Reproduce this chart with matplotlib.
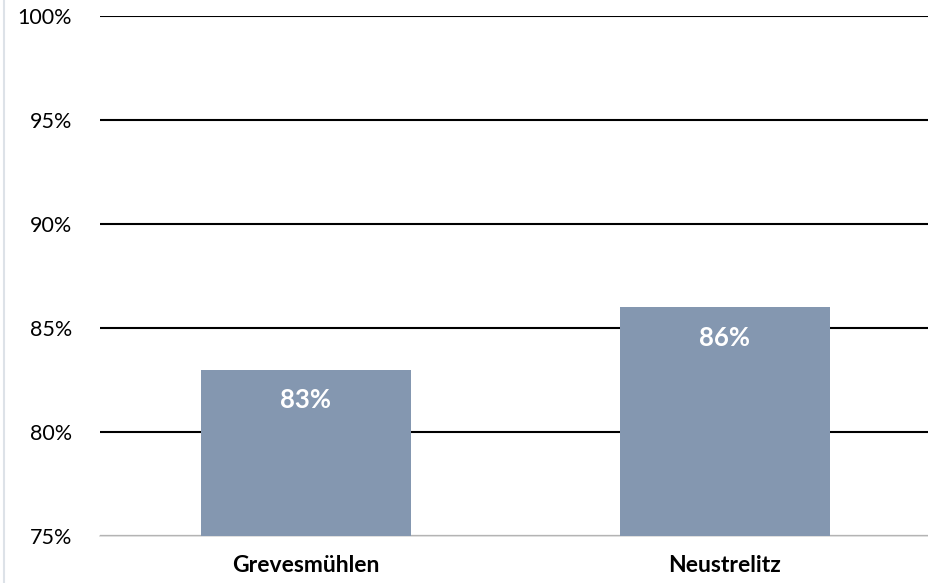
import matplotlib.pyplot as plt
from matplotlib.lines import Line2D
from matplotlib.ticker import FuncFormatter

orte = ['Grevesmühlen', 'Neustrelitz']
werte = [83, 86]
y_ticks = [75, 80, 85, 90, 95, 100]

plt.rcParams['font.family'] = ['Lato', 'DejaVu Sans']

fig = plt.figure(figsize=(9.29, 5.83), dpi=100)
ax = fig.add_axes([0.1076, 0.0806, 0.8924, 0.892])

# Balken über den Gitterlinien
x = list(range(len(orte)))
bars = ax.bar(x, werte, width=0.501, color='#8497B0', zorder=3)

for b, v in zip(bars, werte):
    ax.text(b.get_x() + b.get_width() / 2, v - 0.9, f'{v}%', ha='center', va='top',
            color='white', fontsize=18.5, fontweight='bold', zorder=4)

ax.set_ylim(75, 100)
ax.set_xlim(-0.4916, 1.487)
ax.set_yticks(y_ticks)
ax.yaxis.set_major_formatter(FuncFormatter(lambda v, p: f'{v:.0f}%'))
ax.grid(axis='y', color='black', linewidth=1.5, zorder=0)
ax.set_axisbelow(True)

ax.set_xticks(x)
ax.set_xticklabels(orte, fontsize=16.5, fontweight='bold')
ax.tick_params(axis='x', length=0, pad=14)
ax.tick_params(axis='y', length=0, pad=20, labelsize=15.5)

for s in ['top', 'right', 'left']:
    ax.spines[s].set_visible(False)
ax.spines['bottom'].set_color('#D9D9D9')
ax.spines['bottom'].set_linewidth(1.2)

fig.add_artist(Line2D([0.004, 0.004], [0, 1], color='#DDE2E8', linewidth=1.5))

plt.savefig('out.png', dpi=100)
